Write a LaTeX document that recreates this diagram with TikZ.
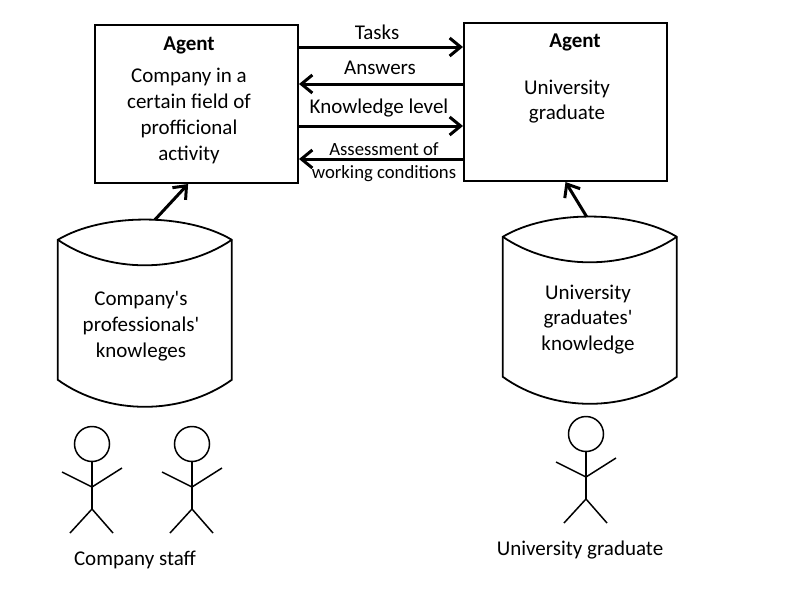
\documentclass[tikz,border=0pt]{standalone}
\usepackage{fontspec}
\setmainfont{Carlito}
\usetikzlibrary{arrows.meta}

\begin{document}
\begin{tikzpicture}[x = 1pt, y = -1pt]
	\tikzstyle{agentStyle} = [shape = rectangle, draw, line width = 2pt, minimum width = 203pt, minimum height = 158pt, inner sep = 0pt]
	\tikzstyle{storeStyle} = [shape = rectangle, minimum width = 174pt, minimum height = 187pt, inner sep = 0pt]
	\tikzstyle{textStyle} = [align = center, inner sep = 0pt, font = \fontsize{21}{25.8}\selectfont]
	\tikzstyle{smallStyle} = [align = center, inner sep = 0pt, font = \fontsize{18.7}{23}\selectfont]
	\tikzstyle{headStyle} = [shape = circle, draw, line width = 1.5pt, minimum size = 35pt, inner sep = 0pt]
	\tikzstyle{flowStyle} = [line width = 3pt, -{Straight Barb[length = 11pt, width = 18pt, line width = 3pt]}]
	\useasboundingbox (0, 0) rectangle (800, 600);
	% agents
	\node[agentStyle] (agentC) at (196.5, 104) {};
	\node[agentStyle] (agentU) at (565.5, 102) {};
	\node[textStyle] (titleC) at (189, 45) {\textbf{Agent}};
	\node[textStyle] (textC) at (189, 116) {Company in a\\certain field of\\profficional\\activity};
	\node[textStyle] (titleU) at (575, 42) {\textbf{Agent}};
	\node[textStyle] (textU) at (567, 101.5) {University\\graduate};
	% messages
	\draw[flowStyle] (agentC.east |- 0, 47) -- (agentU.west |- 0, 47);
	\draw[flowStyle] (agentU.west |- 0, 84) -- (agentC.east |- 0, 84);
	\draw[flowStyle] (agentC.east |- 0, 126) -- (agentU.west |- 0, 126);
	\draw[flowStyle] (agentU.west |- 0, 159) -- (agentC.east |- 0, 159);
	\node[textStyle] (tasks) at (377, 32) {Tasks};
	\node[textStyle] (answers) at (380, 68) {Answers};
	\node[textStyle] (level) at (379, 108) {Knowledge level};
	\node[smallStyle] (assess) at (384, 162) {Assessment of\\working conditions};
	% knowledge stores
	\foreach \n/\x/\y in {C/145/313.5, U/590/310.5}{
		\node[storeStyle] (store\n) at (\x, \y) {};
		\draw[line width = 1.8pt] (store\n.north west) ++(0, 20) .. controls +(45, -27) and +(-45, -27) .. ++(174, 0)
			-- ++(0, 140) .. controls +(-50, 36) and +(50, 36) .. ++(-174, 0) -- cycle;
		\draw[line width = 1.8pt] (store\n.north west) ++(0, 20) .. controls +(50, 34) and +(-50, 34) .. ++(174, 0);
	}
	\node[textStyle] (textStoreC) at (141, 326.5) {Company\textquotesingle s\\professionals\textquotesingle\\knowleges};
	\node[textStyle] (textStoreU) at (588, 319.5) {University\\graduates\textquotesingle\\knowledge};
	\draw[flowStyle] (storeC.84.5) -- (agentC.264);
	\draw[flowStyle] (storeU.92) -- (agentU.south);
	% people
	\foreach \n/\x/\y in {a/92/444, b/192/444, c/586/434}{
		\node[headStyle] (head\n) at (\x, \y) {};
		\coordinate (hip\n) at (\x, \y + 65);
		\coordinate (arms\n) at (\x, \y + 43);
		\draw[line width = 1.5pt] (head\n.south) -- (hip\n);
		\draw[line width = 1.5pt] (\x - 30, \y + 28) -- (arms\n) -- (\x + 30, \y + 24);
		\draw[line width = 1.5pt] (\x - 22, \y + 89) -- (hip\n) -- (\x + 21, \y + 89);
	}
	\node[textStyle] (staff) at (135, 560) {Company staff};
	\node[textStyle] (graduate) at (580, 550) {University graduate};
\end{tikzpicture}
\end{document}
